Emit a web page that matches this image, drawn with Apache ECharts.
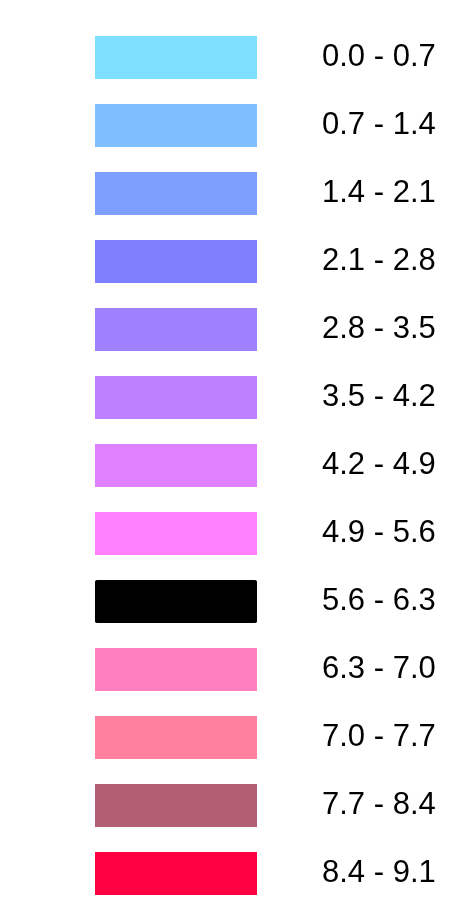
<!DOCTYPE html>
<html>
<head>
<meta charset="utf-8">
<style>html,body{margin:0;padding:0;background:#fff;}#chart{width:449px;height:903px;}</style>
<script src="https://cdn.jsdelivr.net/npm/echarts@6/dist/echarts.min.js"></script>
</head>
<body>
<div id="chart"></div>
<script>
var pieceMins = [0.0, 0.7, 1.4, 2.1, 2.8, 3.5, 4.2, 4.9, 5.6, 6.3, 7.0, 7.7, 8.4];
var pieceMaxs = [0.7, 1.4, 2.1, 2.8, 3.5, 4.2, 4.9, 5.6, 6.3, 7.0, 7.7, 8.4, 9.1];
var pieceLabels = ['0.0 - 0.7','0.7 - 1.4','1.4 - 2.1','2.1 - 2.8','2.8 - 3.5','3.5 - 4.2','4.2 - 4.9','4.9 - 5.6','5.6 - 6.3','6.3 - 7.0','7.0 - 7.7','7.7 - 8.4','8.4 - 9.1'];
var pieceColors = ['#7fdfff','#80bfff','#7f9fff','#8080ff','#9f80ff','#bf80ff','#df80ff','#ff80ff','#000000','#ff80c0','#ff809f','#b35f73','#ff0040'];

var smallRoundRect = 'path://M2,0L160,0Q162,0 162,2L162,45Q162,47 160,47L2,47Q0,47 0,45L0,2Q0,0 2,0Z';

var pieces = pieceMins.map(function (mn, i) {
  return {
    min: mn, max: pieceMaxs[i], label: pieceLabels[i], color: pieceColors[i],
    symbol: pieceColors[i] === '#000000' ? smallRoundRect : 'rect'
  };
});

var chart = echarts.init(document.getElementById('chart'), null, { renderer: 'canvas' });
chart.setOption({
  backgroundColor: '#ffffff',
  animation: false,
  visualMap: {
    type: 'piecewise',
    orient: 'vertical',
    inverse: true,
    left: 80,
    top: 21,
    itemWidth: 162,
    itemHeight: 43,
    itemGap: 25,
    textGap: 65,
    itemSymbol: 'rect',
    hoverLink: false,
    selectedMode: false,
    pieces: pieces,
    textStyle: { color: '#000', fontSize: 31, fontFamily: 'Liberation Sans, Arial, sans-serif' }
  },
  series: []
});
</script>
</body>
</html>
